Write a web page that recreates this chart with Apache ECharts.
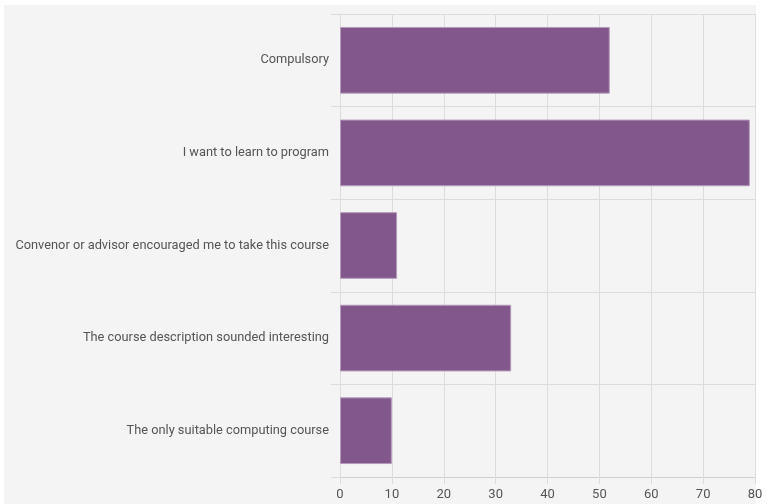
<!DOCTYPE html>
<html>
<head>
<meta charset="utf-8">
<script src="https://cdn.jsdelivr.net/npm/echarts@6/dist/echarts.min.js"></script>
<style>
  html, body { margin: 0; padding: 0; background: #fff; }
  #chart { width: 768px; height: 504px; }
</style>
</head>
<body>
<div id="chart"></div>
<script>
// categories top to bottom
const reasons = [
  "Compulsory",
  "I want to learn to program",
  "Convenor or advisor encouraged me to take this course",
  "The course description sounded interesting",
  "The only suitable computing course"
];
const counts = [52, 79, 11, 33, 10];
const xTicks = [0, 10, 20, 30, 40, 50, 60, 70, 80];

const myChart = echarts.init(document.getElementById("chart"));
const gridColor = "#dcdcdc";
const textColor = "#555";

const option = {
  backgroundColor: "#fff",
  animation: false,
  graphic: [
    {
      type: "rect",
      z: -10,
      silent: true,
      shape: { x: 4, y: 5, width: 752, height: 499 },
      style: { fill: "#f4f4f4" }
    }
  ],
  grid: { left: 340, right: 13, top: 14, bottom: 27 },
  xAxis: {
    type: "value",
    min: xTicks[0],
    max: xTicks[xTicks.length - 1],
    interval: 10,
    axisLine: { show: true, lineStyle: { color: "#cfcfcf" } },
    axisTick: { show: true, length: 7, lineStyle: { color: gridColor } },
    axisLabel: {
      color: textColor,
      fontSize: 13,
      fontFamily: "Roboto, sans-serif",
      margin: 11,
      formatter: v => (xTicks.indexOf(v) >= 0 ? String(v) : "")
    },
    splitLine: { show: true, lineStyle: { color: gridColor } }
  },
  yAxis: {
    type: "category",
    inverse: true,
    data: reasons,
    axisLine: { show: true, lineStyle: { color: gridColor } },
    axisTick: { show: true, length: 9, lineStyle: { color: gridColor } },
    axisLabel: {
      color: textColor,
      fontSize: 12.8,
      fontFamily: "Roboto, sans-serif",
      margin: 11
    },
    splitLine: { show: true, lineStyle: { color: gridColor } }
  },
  series: [
    {
      type: "bar",
      data: counts,
      barWidth: "72%",
      itemStyle: {
        color: "#82588c",
        borderColor: "#b59abb",
        borderWidth: 1
      }
    }
  ]
};
myChart.setOption(option);
</script>
</body>
</html>
